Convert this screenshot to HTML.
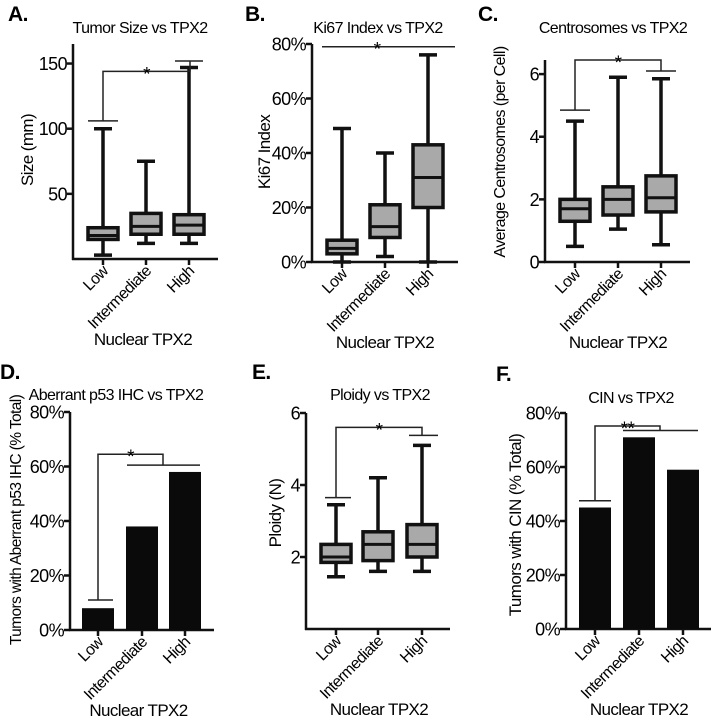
<!DOCTYPE html>
<html><head><meta charset="utf-8"><style>
html,body{margin:0;padding:0;background:#fff}
svg{display:block;font-family:"Liberation Sans",sans-serif}
text{fill:#000;letter-spacing:-0.6px}
</style></head><body>
<svg id="fig" width="711" height="719" viewBox="0 0 711 719"></svg>
<script>
const categories=["Low","Intermediate","High"];
// Box data: [min, q1, median, q3, max]
const sizeBoxes=[[3,15,18,24,100],[12,19,25,35,75],[12,19,26,34,147]];
const ki67Boxes=[[0,3,5,8,49],[2,9,13,21,40],[0,20,31,43,76]];
const centBoxes=[[0.5,1.3,1.7,2.0,4.5],[1.05,1.5,2.0,2.4,5.9],[0.55,1.6,2.05,2.75,5.85]];
const ploidyBoxes=[[1.45,1.85,2.0,2.35,3.45],[1.6,1.9,2.35,2.7,4.2],[1.6,2.0,2.35,2.9,5.1]];
const p53Values=[8,38,58];
const cinValues=[45,71,59];
const sizeTicks=[50,100,150];
const ki67Ticks=[0,20,40,60,80];
const centTicks=[0,2,4,6];
const ploidyTicks=[2,4,6];
const pctTicks=[0,20,40,60,80];

const NS="http://www.w3.org/2000/svg";
const svg=document.getElementById('fig');
function mk(tag,attrs,parent,txt){const e=document.createElementNS(NS,tag);for(const k in attrs)e.setAttribute(k,attrs[k]);if(txt!==undefined)e.textContent=txt;(parent||svg).appendChild(e);return e;}

const panels=[
 {letter:"A.",lx:8,ly:21,title:"Tumor Size vs TPX2",tx:140,ty:33,ax:73,ay:259,top:44,xEnd:218,ymax:165,cx:[103,146,189],type:"box",data:sizeBoxes,ticks:sizeTicks,fmt:v=>v,ylabel:"Size (mm)",ylx:28,yly:150,yfs:17,
  sig:{low:[88,118,106],high:[175,203,152],brk:[103,190,144],star:"*"}},
 {letter:"B.",lx:245,ly:21,title:"Ki67 Index vs TPX2",tx:378,ty:33,ax:312,ay:262,top:44,xEnd:458,ymax:80,cx:[342,385,428],type:"box",data:ki67Boxes,ticks:ki67Ticks,fmt:v=>v+"%",ylabel:"Ki67 Index",ylx:265,yly:152,yfs:17,
  sig:{flat:[322,455,79],star:"*"}},
 {letter:"C.",lx:478,ly:21,title:"Centrosomes vs TPX2",tx:613,ty:33,ax:545,ay:262,top:60,xEnd:690,ymax:6.45,cx:[575,618,661],type:"box",data:centBoxes,ticks:centTicks,fmt:v=>v,ylabel:"Average Centrosomes (per Cell)",ylx:500,yly:152,yfs:16,
  sig:{low:[560,590,4.85],high:[646,676,6.1],brk:[575,661,6.45],star:"*"}},
 {letter:"D.",lx:0,ly:379,title:"Aberrant p53 IHC vs TPX2",tx:116,ty:400,ax:70,ay:630,top:412,xEnd:214,ymax:80,cx:[98,142,185],type:"bar",data:p53Values,ticks:pctTicks,fmt:v=>v+"%",ylabel:"Tumors with Aberrant p53 IHC (% Total)",ylx:16,yly:520,yfs:15.5,
  sig:{low:[88,113,11],high:[127,200,60.5],brk:[98,163,64.5],star:"*"}},
 {letter:"E.",lx:252,ly:379,title:"Ploidy vs TPX2",tx:380,ty:400,ax:306,ay:629,top:413,xEnd:450,ymax:6,cx:[336,378,422],type:"box",data:ploidyBoxes,ticks:ploidyTicks,fmt:v=>v,ylabel:"Ploidy (N)",ylx:276,yly:513,yfs:17,
  sig:{low:[325,351,3.65],high:[409,438,5.38],brk:[336,422,5.6],star:"*"}},
 {letter:"F.",lx:496,ly:381,title:"CIN vs TPX2",tx:631,ty:403,ax:566,ay:629,top:413,xEnd:711,ymax:80,cx:[595,639,683],type:"bar",data:cinValues,ticks:pctTicks,fmt:v=>v+"%",ylabel:"Tumors with CIN (% Total)",ylx:516,yly:525,yfs:17,
  sig:{low:[579,611,47.5],high:[623,698,73.5],brk:[595,660,75.2],star:"**"}}
];

panels.forEach((p,pi)=>{
 const g=mk('g',{});
 
 
 const y=v=>p.ay-(v/p.ymax)*(p.ay-p.top);
 const L=mk('text',{x:p.lx,y:p.ly,'font-size':21,'font-weight':'bold'},g,p.letter);
 
 const T=mk('text',{x:p.tx,y:p.ty,'font-size':16,'text-anchor':'middle'},g,p.title);
 
 const ya=mk('line',{x1:p.ax,y1:p.top,x2:p.ax,y2:p.ay+1,stroke:'#111','stroke-width':2.5},g);
 
 const xa=mk('line',{x1:p.ax-1,y1:p.ay,x2:p.xEnd,y2:p.ay,stroke:'#111','stroke-width':2.5},g);
 
 p.ticks.forEach(t=>{
  mk('line',{x1:p.ax-6,y1:y(t),x2:p.ax,y2:y(t),stroke:'#111','stroke-width':2.5},g);
  const tl=mk('text',{x:p.ax-6,y:y(t)+6.5,'font-size':18,'text-anchor':'end','letter-spacing':'-1px'},g,p.fmt(t));
  
 });
 const yl=mk('text',{x:0,y:0,'font-size':p.yfs,'text-anchor':'middle',transform:`translate(${p.ylx+5},${p.yly}) rotate(-90)`},g,p.ylabel);
 
 categories.forEach((c,i)=>{
  const cx=p.cx[i];
  mk('line',{x1:cx,y1:p.ay,x2:cx,y2:p.ay+6,stroke:'#111','stroke-width':2.5},g);
  const cl=mk('text',{x:0,y:0,'font-size':16,'text-anchor':'end',transform:`translate(${cx+6},${p.ay+13}) rotate(-45)`},g,c);
  
  if(p.type==='box'){
   const d=p.data[i],hw=15;
   const bg=mk('g',{},g);
   
   mk('line',{x1:cx,y1:y(d[0]),x2:cx,y2:y(d[4]),stroke:'#111','stroke-width':3.5},bg);
   mk('line',{x1:cx-9,y1:y(d[0]),x2:cx+9,y2:y(d[0]),stroke:'#111','stroke-width':3.5},bg);
   mk('line',{x1:cx-9,y1:y(d[4]),x2:cx+9,y2:y(d[4]),stroke:'#111','stroke-width':3.5},bg);
   mk('rect',{x:cx-hw,y:y(d[3]),width:2*hw,height:y(d[1])-y(d[3]),fill:'#a9a9a9',stroke:'#111','stroke-width':3.5},bg);
   mk('line',{x1:cx-hw,y1:y(d[2]),x2:cx+hw,y2:y(d[2]),stroke:'#111','stroke-width':3},bg);
  } else {
   const b=mk('rect',{x:cx-16,y:y(p.data[i]),width:32,height:p.ay-y(p.data[i]),fill:'#0a0a0a'},g);
   
  }
 });
 const xt=mk('text',{x:(p.cx[0]+p.cx[2])/2+(pi%3===0?-3:0),y:p.ay+86,'font-size':17,'text-anchor':'middle'},g,'Nuclear TPX2');
 
 const s=p.sig,sg=mk('g',{stroke:'#222','stroke-width':1.5,fill:'none'},g);
 
 let starX,starY;
 if(s.flat){
  mk('line',{x1:s.flat[0],y1:y(s.flat[2]),x2:s.flat[1],y2:y(s.flat[2])},sg);
  starX=(p.cx[0]+p.cx[2])/2-8;starY=y(s.flat[2]);
 } else {
  const yl2=y(s.low[2]),yh=y(s.high[2]),yb=y(s.brk[2]);
  mk('line',{x1:s.low[0],y1:yl2,x2:s.low[1],y2:yl2},sg);
  mk('line',{x1:s.high[0],y1:yh,x2:s.high[1],y2:yh},sg);
  mk('polyline',{points:`${s.brk[0]},${yl2} ${s.brk[0]},${yb} ${s.brk[1]},${yb} ${s.brk[1]},${yh}`},sg);
  starX=(s.brk[0]+s.brk[1])/2;starY=yb;
 }
 const st=mk('text',{x:starX,y:starY+9,'font-size':19,'text-anchor':'middle','letter-spacing':'-2px'},g,s.star);
 
});
</script>
</body></html>
